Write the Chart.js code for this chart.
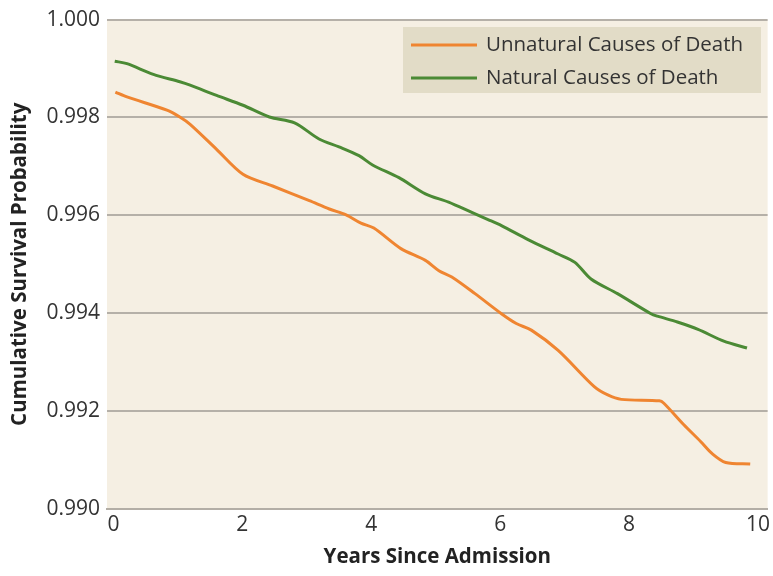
<!DOCTYPE html>
<html lang="en">
<head>
    <meta charset="UTF-8">
    <title>Cumulative Survival Probability</title>
    <script src="https://cdn.jsdelivr.net/npm/chart.js"></script>
    <style>
        body { margin: 0; background: #ffffff; }
        .wrap { width: 773px; height: 576px; position: relative; }
    </style>
</head>
<body>
    <div class="wrap">
        <canvas id="survivalChart" width="773" height="576"></canvas>
    </div>

<script>
    // years since admission and survival values
    const unnaturalYears = [0.03, 0.21, 0.83, 1.03, 1.19, 1.6, 2.01, 2.47, 3.04, 3.35, 3.61, 3.84, 4.04, 4.46, 4.84, 5.05, 5.25, 5.61, 6.02, 6.25, 6.49, 6.9, 7.46, 7.67, 7.88, 8.47, 8.54, 8.85, 9.11, 9.29, 9.5, 9.88];
    const unnaturalValues = [0.99852, 0.99842, 0.99815, 0.99801, 0.99786, 0.99735, 0.99684, 0.99660, 0.99630, 0.99613, 0.99601, 0.99584, 0.99574, 0.99532, 0.99508, 0.99487, 0.99474, 0.99440, 0.99399, 0.99379, 0.99365, 0.99324, 0.99250, 0.99233, 0.99224, 0.99221, 0.99216, 0.99172, 0.99138, 0.99113, 0.99095, 0.99092];

    const naturalYears = [0.02, 0.21, 0.62, 1.03, 1.19, 1.6, 2.01, 2.42, 2.81, 3.19, 3.5, 3.81, 4.02, 4.43, 4.84, 5.2, 5.56, 5.82, 6.02, 6.44, 6.9, 7.16, 7.41, 7.82, 8.34, 8.44, 8.75, 9.07, 9.47, 9.83];
    const naturalValues = [0.99915, 0.99910, 0.99888, 0.99873, 0.99866, 0.99845, 0.99825, 0.99801, 0.99789, 0.99756, 0.99740, 0.99722, 0.99703, 0.99677, 0.99644, 0.99627, 0.99606, 0.99591, 0.99579, 0.99550, 0.99521, 0.99504, 0.99470, 0.99440, 0.99399, 0.99394, 0.99382, 0.99367, 0.99343, 0.99329];

    const seriesNames = ['Unnatural Causes of Death', 'Natural Causes of Death'];
    const xTicks = [0, 2, 4, 6, 8, 10];
    const yTicks = [0.990, 0.992, 0.994, 0.996, 0.998, 1.000];

    const orange = '#ef8531';
    const green = '#4b8a35';

    function toPoints(xs, ys) {
        return xs.map((x, i) => ({ x: x, y: ys[i] }));
    }

    // beige background behind the plot area
    const plotBackground = {
        id: 'plotBackground',
        beforeDraw(chart) {
            const { ctx, chartArea } = chart;
            ctx.save();
            ctx.fillStyle = '#f5efe3';
            ctx.fillRect(chartArea.left, chartArea.top, chartArea.right - chartArea.left, chartArea.bottom - chartArea.top);
            ctx.restore();
        }
    };

    // legend box drawn inside the plot, top right
    const boxLegend = {
        id: 'boxLegend',
        afterDatasetsDraw(chart) {
            const ctx = chart.ctx;
            const left = 403, top = 27, w = 358, h = 66;
            ctx.save();
            ctx.fillStyle = '#e2dcc7';
            ctx.fillRect(left, top, w, h);
            ctx.font = '20.5px "Open Sans"';
            ctx.textBaseline = 'middle';
            chart.data.datasets.forEach((ds, i) => {
                const y = top + 18 + i * 33;
                ctx.strokeStyle = ds.borderColor;
                ctx.lineWidth = 3;
                ctx.beginPath();
                ctx.moveTo(411, y);
                ctx.lineTo(477, y);
                ctx.stroke();
                ctx.fillStyle = '#333333';
                ctx.fillText(ds.label, 486, y);
            });
            ctx.restore();
        }
    };

    const ctx = document.getElementById('survivalChart').getContext('2d');

    new Chart(ctx, {
        type: 'line',
        data: {
            datasets: [
                {
                    label: seriesNames[0],
                    data: toPoints(unnaturalYears, unnaturalValues),
                    borderColor: orange,
                    borderWidth: 3,
                    pointRadius: 0,
                    tension: 0.3,
                    fill: false
                },
                {
                    label: seriesNames[1],
                    data: toPoints(naturalYears, naturalValues),
                    borderColor: green,
                    borderWidth: 3,
                    pointRadius: 0,
                    tension: 0.3,
                    fill: false
                }
            ]
        },
        options: {
            responsive: false,
            animation: false,
            layout: { padding: { top: 18, right: 3, left: 0, bottom: 0 } },
            plugins: {
                legend: { display: false },
                tooltip: { enabled: false }
            },
            scales: {
                x: {
                    type: 'linear',
                    min: -0.1,
                    max: 10.15,
                    afterBuildTicks: axis => { axis.ticks = xTicks.map(v => ({ value: v })); },
                    afterFit: axis => { axis.height = 67; },
                    grid: { display: false, drawTicks: false },
                    border: { display: true, color: '#b3aea6', width: 2 },
                    ticks: {
                        color: '#333333',
                        font: { family: 'Open Sans', size: 21 },
                        padding: 3,
                        maxRotation: 0,
                        callback: v => String(v)
                    },
                    title: {
                        display: true,
                        text: 'Years Since Admission',
                        color: '#222222',
                        font: { family: 'Open Sans', size: 20.5, weight: 'bold' },
                        padding: { top: 0, bottom: 7 }
                    }
                },
                y: {
                    min: 0.990,
                    max: 1.000,
                    afterBuildTicks: axis => { axis.ticks = yTicks.map(v => ({ value: v })); },
                    afterFit: axis => { axis.width = 107; },
                    grid: { color: '#b5b0a8', lineWidth: 2, drawTicks: false },
                    border: { display: false },
                    ticks: {
                        color: '#333333',
                        font: { family: 'Open Sans', size: 21 },
                        padding: 7,
                        callback: v => v.toFixed(3)
                    },
                    title: {
                        display: true,
                        text: 'Cumulative Survival Probability',
                        color: '#222222',
                        font: { family: 'Open Sans', size: 20.5, weight: 'bold' },
                        padding: { top: 8, bottom: 0 }
                    }
                }
            }
        },
        plugins: [plotBackground, boxLegend]
    });
</script>
</body>
</html>
